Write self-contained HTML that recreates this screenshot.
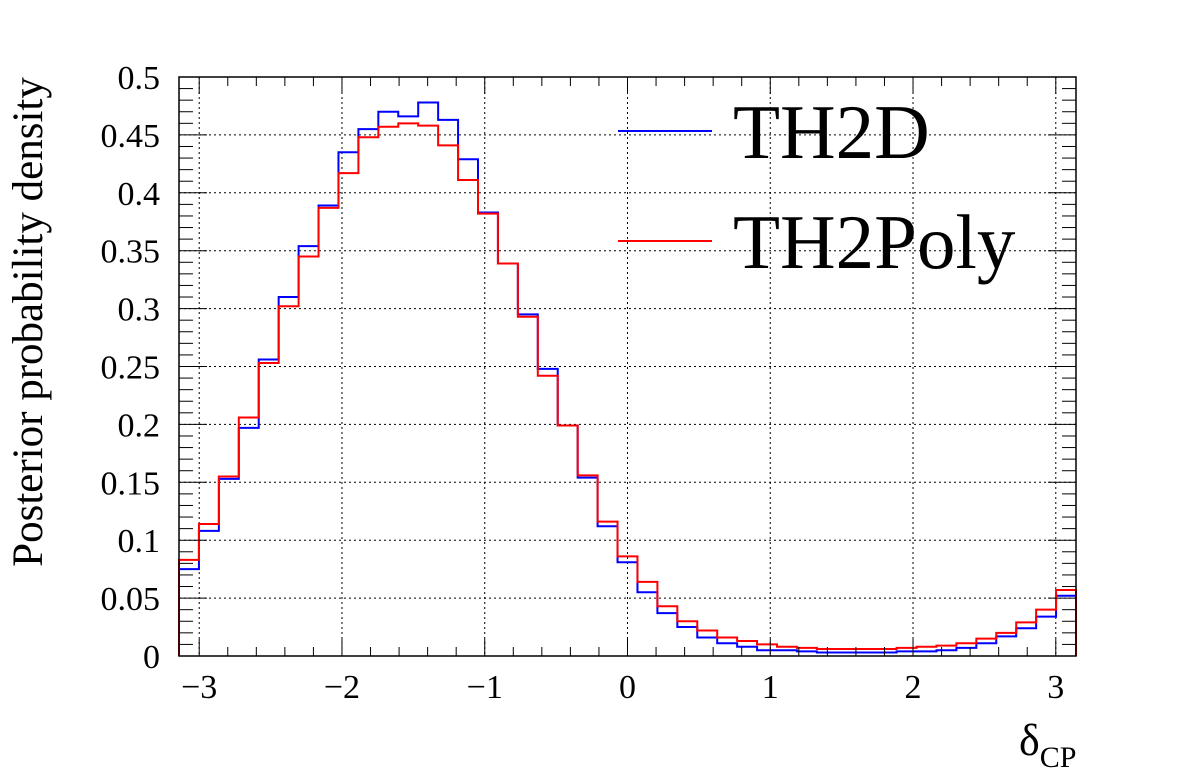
<!DOCTYPE html>
<html><head><meta charset="utf-8"><style>
html,body{margin:0;padding:0;background:#fff;}
svg text{font-family:"Liberation Serif",serif;fill:#000;}
</style></head><body>
<svg id="c" width="1196" height="772" viewBox="0 0 1196 772">
<g id="grid"></g>
<g id="series"></g>
<g id="axes"></g>
<text x="42" y="322" font-size="43" text-anchor="middle" transform="rotate(-90 42 322)">Posterior probability density</text>
<text x="1019" y="755" font-size="44">δ<tspan font-size="30" dy="12">CP</tspan></text>
<g>
<line x1="618" y1="131" x2="712" y2="131" stroke="#0000ff" stroke-width="2"/>
<text x="733" y="158" font-size="77">TH2D</text>
<line x1="618" y1="241" x2="712" y2="241" stroke="#ff0000" stroke-width="2"/>
<text x="733" y="268" font-size="77">TH2Poly</text>
</g>
</svg>
<script>
const th2d = [0.075,0.108,0.153,0.197,0.256,0.310,0.354,0.389,0.435,0.455,0.470,0.466,0.478,0.463,0.429,0.383,0.339,0.295,0.248,0.199,0.154,0.112,0.081,0.055,0.037,0.025,0.016,0.011,0.008,0.005,0.005,0.004,0.003,0.003,0.003,0.003,0.004,0.004,0.005,0.007,0.011,0.017,0.024,0.034,0.052];
const th2poly = [0.083,0.114,0.155,0.206,0.253,0.302,0.345,0.387,0.417,0.448,0.457,0.460,0.458,0.441,0.411,0.382,0.339,0.293,0.242,0.199,0.156,0.116,0.086,0.064,0.043,0.030,0.022,0.016,0.013,0.010,0.008,0.007,0.006,0.006,0.006,0.006,0.007,0.008,0.009,0.011,0.015,0.020,0.029,0.040,0.057];
const yTicks = [0,0.05,0.1,0.15,0.2,0.25,0.3,0.35,0.4,0.45,0.5];
const yTickLabels = ["0","0.05","0.1","0.15","0.2","0.25","0.3","0.35","0.4","0.45","0.5"];
const xTicks = [-3,-2,-1,0,1,2,3];
const xTickLabels = ["\u22123","\u22122","\u22121","0","1","2","3"];

const X0=179,X1=1076,Y0=656,Y1=77;
const XMIN=-Math.PI,XMAX=Math.PI,YMIN=0,YMAX=0.5;
const sx=v=>X0+(v-XMIN)/(XMAX-XMIN)*(X1-X0);
const sy=v=>Y0-(v-YMIN)/(YMAX-YMIN)*(Y0-Y1);
const NS="http://www.w3.org/2000/svg";
function mk(t,a,p){const e=document.createElementNS(NS,t);for(const k in a)e.setAttribute(k,a[k]);p.appendChild(e);return e;}
const grid=document.getElementById('grid'),axes=document.getElementById('axes'),series=document.getElementById('series');

yTicks.forEach((v,i)=>{
  if(v>0&&v<0.5){const g=mk('line',{x1:X0,x2:X1,y1:sy(v),y2:sy(v),stroke:'#000','stroke-width':1,'stroke-dasharray':'2,3'},grid);
  
  }
  const t=mk('text',{x:X0-19,y:sy(v)+12,'font-size':34,'text-anchor':'end'},axes);
  t.textContent=yTickLabels[i];
  
  
  mk('line',{x1:X0,x2:X0+28,y1:sy(v),y2:sy(v),stroke:'#000','stroke-width':1},axes);
  mk('line',{x1:X1,x2:X1-28,y1:sy(v),y2:sy(v),stroke:'#000','stroke-width':1},axes);
});
for(let v=0.01;v<0.5;v+=0.01){ if(Math.abs(v/0.05-Math.round(v/0.05))<1e-6)continue;
  mk('line',{x1:X0,x2:X0+14,y1:sy(v),y2:sy(v),stroke:'#000','stroke-width':1},axes);
  mk('line',{x1:X1,x2:X1-14,y1:sy(v),y2:sy(v),stroke:'#000','stroke-width':1},axes);}
xTicks.forEach((v,i)=>{
  const g=mk('line',{x1:sx(v),x2:sx(v),y1:Y1,y2:Y0,stroke:'#000','stroke-width':1,'stroke-dasharray':'2,3'},grid);
  
  
  const t=mk('text',{x:sx(v),y:Y0+42,'font-size':34,'text-anchor':'middle'},axes);
  t.textContent=xTickLabels[i];
  
  
  mk('line',{x1:sx(v),x2:sx(v),y1:Y0,y2:Y0-17,stroke:'#000','stroke-width':1},axes);
  mk('line',{x1:sx(v),x2:sx(v),y1:Y1,y2:Y1+17,stroke:'#000','stroke-width':1},axes);
});
for(let v=-3.2;v<3.15;v+=0.2){ if(Math.abs(v-Math.round(v))<1e-6||v<XMIN||v>XMAX)continue;
  mk('line',{x1:sx(v),x2:sx(v),y1:Y0,y2:Y0-9,stroke:'#000','stroke-width':1},axes);
  mk('line',{x1:sx(v),x2:sx(v),y1:Y1,y2:Y1+9,stroke:'#000','stroke-width':1},axes);}
mk('rect',{x:X0,y:Y1,width:X1-X0,height:Y0-Y1,fill:'none',stroke:'#000','stroke-width':1.5},axes);

function hist(vals,color,name){
  const n=vals.length,w=(XMAX-XMIN)/n;
  let d='M'+sx(XMIN)+','+sy(0);
  vals.forEach((v,i)=>{d+=' L'+sx(XMIN+i*w)+','+sy(v)+' L'+sx(XMIN+(i+1)*w)+','+sy(v);});
  d+=' L'+sx(XMAX)+','+sy(0);
  const p=mk('path',{d:d,fill:'none',stroke:color,'stroke-width':2},series);
  
  
}
hist(th2d,'#0000ff','th2d-histogram');
hist(th2poly,'#ff0000','th2poly-histogram');
</script>
</body></html>
